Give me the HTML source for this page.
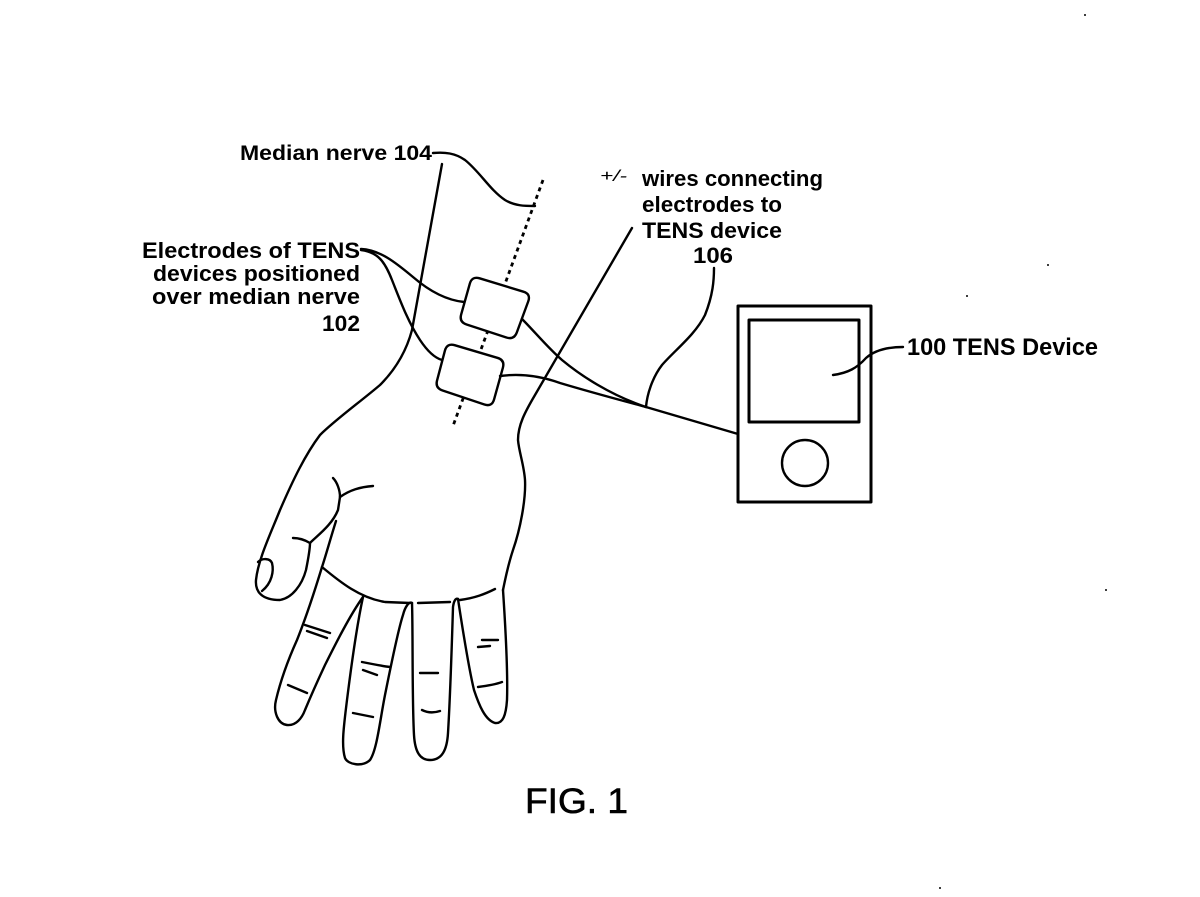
<!DOCTYPE html>
<html>
<head>
<meta charset="utf-8">
<style>
html,body{margin:0;padding:0;background:#fff;}
svg{display:block;}
text{font-family:"Liberation Sans",Arial,sans-serif;fill:#000;}
.b{font-weight:bold;}
</style>
</head>
<body>
<svg width="1200" height="897" viewBox="0 0 1200 897" xmlns="http://www.w3.org/2000/svg">
<rect width="1200" height="897" fill="#fff"/>
<g fill="none" stroke="#000" stroke-width="2.4" stroke-linecap="round" stroke-linejoin="round">
  <!-- median nerve dashed -->
  <path d="M543,180 L453,426" stroke-width="2.8" stroke-dasharray="4,4" stroke-linecap="butt"/>
  <!-- leader median nerve -->
  <path d="M433,153 C445,152 455,153 465,160 C480,172 490,190 505,200 C515,206 525,206 535,206"/>
  <!-- left arm + hand left outline -->
  <path d="M442,164 L412,330 C408,345 400,365 380,385 C360,402 335,420 320,435 C305,455 293,480 280,510 C270,535 258,560 256,580 C255,592 262,600 280,600 C292,598 302,585 306,570 C308,560 310,550 310,543"/>
  <!-- thumb inner -->
  <path d="M310,543 C318,535 332,525 338,510 L340,497"/>
  <path d="M340,497 C340,490 337,482 333,478"/>
  <path d="M340,497 C350,490 360,487 373,486"/>
  <path d="M293,538 C300,538 305,540 310,543"/>
  <path d="M258,562 C262,558 270,558 272,563 C274,571 272,583 262,591"/>
  <!-- index finger -->
  <path d="M336,521 C330,540 326,555 322,567 C315,590 305,620 297,640 C288,660 280,683 276,700 C273,712 278,724 287,725 C296,726 302,718 305,710 C310,698 318,680 325,665 C335,645 350,615 363,597"/>
  <!-- knuckle line -->
  <path d="M322,567 C340,582 360,598 385,602 L410,603"/>
  <path d="M418,603 L450,602"/>
  <path d="M460,600 C475,598 485,594 495,589"/>
  <!-- middle finger -->
  <path d="M363,597 C358,620 352,660 347,700 C344,725 341,745 345,758 C348,765 363,767 370,760 C377,750 380,720 385,695 C390,670 398,630 403,615 C405,607 409,601 412,603"/>
  <!-- ring finger -->
  <path d="M412,603 C413,630 412,700 414,735 C415,752 420,760 430,760 C442,760 447,750 448,733 C450,700 452,640 453,607 C454,600 456,598 458,599"/>
  <!-- pinky -->
  <path d="M458,599 C462,625 468,665 474,690 C479,705 485,720 495,723 C503,724 506,715 507,700 C508,670 505,620 503,590"/>
  <!-- right side hand + arm -->
  <path d="M632,228 L535,395 C525,412 518,425 518,440 C519,452 524,465 525,480 C526,500 520,530 513,550 C508,565 505,580 503,590"/>
  <!-- creases -->
  <path d="M305,625 L330,633"/>
  <path d="M307,631 L327,638"/>
  <path d="M288,685 L307,693"/>
  <path d="M362,662 C372,664 382,666 390,667"/>
  <path d="M363,670 L377,675"/>
  <path d="M353,713 L373,717"/>
  <path d="M420,673 L438,673"/>
  <path d="M422,710 C428,713 434,713 440,711"/>
  <path d="M482,640 L498,640"/>
  <path d="M478,647 L490,646"/>
  <path d="M478,687 C486,686 494,685 502,682"/>
  <!-- electrode wires from label -->
  <path d="M361,249 C380,250 395,262 413,277 C428,290 445,300 464,302"/>
  <path d="M361,250 C378,252 385,262 392,280 C400,300 408,322 420,340 C428,352 435,358 442,360"/>
  <!-- electrodes -->
  <path fill="#fff" d="M479.6,278.3 L523.4,291.7 Q531,294 528.2,301.5 L516.8,332.5 Q514,340 506.4,337.5 L466.6,324.5 Q459,322 461.2,314.3 L469.8,283.7 Q472,276 479.6,278.3 Z"/>
  <path fill="#fff" d="M454.7,345.2 L497.3,357.8 Q505,360 502.9,367.7 L494.1,399.3 Q492,407 484.4,404.5 L442.6,390.5 Q435,388 437.1,380.3 L444.9,350.7 Q447,343 454.7,345.2 Z"/>
  <!-- wires to device -->
  <path d="M522,319 C535,332 548,348 562,360 C580,375 610,395 646,407"/>
  <path d="M500,376 C515,374 535,374 560,383 C590,392 620,400 646,407"/>
  <path d="M646,407 L738,434"/>
  <!-- 106 leader -->
  <path d="M714,268 C714,280 713,295 705,315 C695,335 675,350 662,365 C652,378 647,395 646,407"/>
  <!-- device -->
  <rect x="738" y="306" width="133" height="196" stroke-width="3"/>
  <rect x="749" y="320" width="110" height="102" stroke-width="3"/>
  <circle cx="805" cy="463" r="23" stroke-width="2.4"/>
  <path d="M833,375 C848,373 857,368 866,358 C875,350 888,347 903,347"/>
</g>
<!-- specks -->
<g fill="#000">
  <circle cx="1085" cy="15" r="1"/>
  <circle cx="1048" cy="265" r="1"/>
  <circle cx="967" cy="296" r="1"/>
  <circle cx="1106" cy="590" r="1"/>
  <circle cx="940" cy="888" r="1"/>
</g>
<!-- labels -->
<text class="b" x="240" y="160" font-size="21" textLength="192" lengthAdjust="spacingAndGlyphs">Median nerve 104</text>
<text class="b" x="142" y="258" font-size="22" textLength="218" lengthAdjust="spacingAndGlyphs">Electrodes of TENS</text>
<text class="b" x="153" y="281" font-size="22" textLength="207" lengthAdjust="spacingAndGlyphs">devices positioned</text>
<text class="b" x="152" y="304" font-size="22" textLength="208" lengthAdjust="spacingAndGlyphs">over median nerve</text>
<text class="b" x="322" y="331" font-size="22" textLength="38" lengthAdjust="spacingAndGlyphs">102</text>
<text x="600" y="181" font-size="16" font-style="italic" textLength="27" lengthAdjust="spacingAndGlyphs">+/-</text>
<text class="b" x="642" y="186" font-size="22" textLength="181" lengthAdjust="spacingAndGlyphs">wires connecting</text>
<text class="b" x="642" y="212" font-size="22" textLength="140" lengthAdjust="spacingAndGlyphs">electrodes to</text>
<text class="b" x="642" y="238" font-size="22" textLength="140" lengthAdjust="spacingAndGlyphs">TENS device</text>
<text class="b" x="693" y="263" font-size="22" textLength="40" lengthAdjust="spacingAndGlyphs">106</text>
<text class="b" x="907" y="355" font-size="24" textLength="191" lengthAdjust="spacingAndGlyphs">100 TENS Device</text>
<text x="525" y="813" font-size="35" stroke="#000" stroke-width="0.6" textLength="103" lengthAdjust="spacingAndGlyphs">FIG. 1</text>
</svg>
</body>
</html>
